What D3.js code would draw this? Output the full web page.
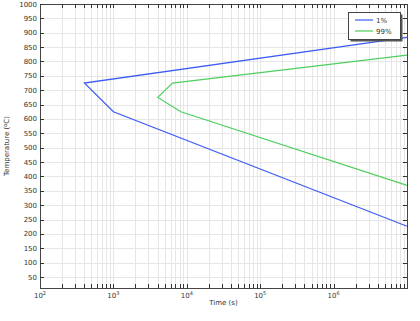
<!DOCTYPE html>
<html>
  <head>
    <meta charset="utf-8" />
    <title>TTT curves</title>
    <script src="https://cdn.jsdelivr.net/npm/d3@7"></script>
    <style>
      body { margin: 0; background: #fff; }
      text { font-family: "DejaVu Sans", sans-serif; fill: #333; }
    </style>
  </head>
  <body>
    <script>
// values
var seriesNames = ["1%", "99%"];
var seriesColors = ["#3d5cf5", "#4fcf5f"];
var time1 = [1e7, 402, 1000, 1e7];
var temp1 = [884, 725, 625, 227];
var time99 = [1e7, 6380, 4025, 8300, 1e7];
var temp99 = [822, 725, 675, 625, 369];
var xTickExp = [2, 3, 4, 5, 6];
var yTicks = d3.range(50, 1001, 50);

// note: "top" is window.top, so use other names for the plot box
var w = 420, h = 321,
    pLeft = 40, pRight = 407, pTop = 4, pBottom = 288;

var svg = d3.select("body").append("svg")
  .attr("width", w)
  .attr("height", h);

var x = d3.scaleLog().domain([1e2, 1e7]).range([pLeft, pRight]);
var y = d3.scaleLinear().domain([12, 1000]).range([pBottom, pTop]);

// minor + major x positions
var xAll = [];
for (var e = 2; e < 7; e++) {
  for (var m = 1; m < 10; m++) xAll.push(m * Math.pow(10, e));
}

var grid = svg.append("g").attr("stroke", "#e6e6e6").attr("stroke-width", 1);
grid.selectAll("line.v").data(xAll.slice(1)).enter().append("line")
  .attr("x1", function(d) { return Math.round(x(d)) + 0.5; })
  .attr("x2", function(d) { return Math.round(x(d)) + 0.5; })
  .attr("y1", pTop).attr("y2", pBottom);
grid.selectAll("line.h").data(yTicks.slice(0, -1)).enter().append("line")
  .attr("y1", function(d) { return Math.round(y(d)) + 0.5; })
  .attr("y2", function(d) { return Math.round(y(d)) + 0.5; })
  .attr("x1", pLeft).attr("x2", pRight);

// curves
var line = d3.line()
  .x(function(d) { return x(d[0]); })
  .y(function(d) { return y(d[1]); });

var curves = [d3.zip(time1, temp1), d3.zip(time99, temp99)];
svg.selectAll("path.curve").data(curves).enter().append("path")
  .attr("d", line)
  .attr("fill", "none")
  .attr("stroke", function(d, i) { return seriesColors[i]; })
  .attr("stroke-width", 1.2);

// frame
svg.append("rect")
  .attr("x", pLeft + 0.5).attr("y", pTop + 0.5)
  .attr("width", pRight - pLeft).attr("height", pBottom - pTop)
  .attr("fill", "none").attr("stroke", "#444").attr("stroke-width", 1);

// ticks, pointing inward on all four sides
var ticks = svg.append("g").attr("stroke", "#333").attr("stroke-width", 1);
xAll.slice(1).forEach(function(d) {
  var px = Math.round(x(d)) + 0.5;
  ticks.append("line").attr("x1", px).attr("x2", px).attr("y1", pBottom).attr("y2", pBottom - 4);
  ticks.append("line").attr("x1", px).attr("x2", px).attr("y1", pTop).attr("y2", pTop + 4);
});
yTicks.forEach(function(d) {
  var py = Math.round(y(d)) + 0.5;
  ticks.append("line").attr("y1", py).attr("y2", py).attr("x1", pLeft).attr("x2", pLeft + 4);
  ticks.append("line").attr("y1", py).attr("y2", py).attr("x1", pRight).attr("x2", pRight - 4);
});

// y tick labels
svg.selectAll("text.ylab").data(yTicks).enter().append("text")
  .attr("x", pLeft - 3)
  .attr("y", function(d) { return y(d) + 2.5; })
  .attr("text-anchor", "end")
  .attr("font-size", 7)
  .text(function(d) { return d; });

// x tick labels with superscript exponent
var xl = svg.selectAll("text.xlab").data(xTickExp).enter().append("text")
  .attr("x", function(d) { return x(Math.pow(10, d)); })
  .attr("y", pBottom + 10)
  .attr("text-anchor", "middle")
  .attr("font-size", 7);
xl.append("tspan").text("10");
xl.append("tspan").attr("dy", -3).attr("font-size", 5).text(function(d) { return d; });

// axis titles
svg.append("text")
  .attr("x", (pLeft + pRight) / 2).attr("y", pBottom + 17)
  .attr("text-anchor", "middle").attr("font-size", 7)
  .text("Time (s)");

var yt = svg.append("text")
  .attr("transform", "translate(9," + ((pTop + pBottom) / 2) + ") rotate(-90)")
  .attr("text-anchor", "middle").attr("font-size", 7);
yt.append("tspan").text("Temperature (");
yt.append("tspan").attr("dy", -2.5).attr("font-size", 5).text("o");
yt.append("tspan").attr("dy", 2.5).text("C)");

// legend
var lg = svg.append("g");
lg.append("rect").attr("x", 350.5).attr("y", 14.5).attr("width", 52).attr("height", 27)
  .attr("fill", "#555");
lg.append("rect").attr("x", 348.5).attr("y", 12.5).attr("width", 52).attr("height", 27)
  .attr("fill", "#fff").attr("stroke", "#444").attr("stroke-width", 1);
seriesNames.forEach(function(name, i) {
  var ly = 20 + i * 11;
  lg.append("line").attr("x1", 355).attr("x2", 373).attr("y1", ly).attr("y2", ly)
    .attr("stroke", seriesColors[i]).attr("stroke-width", 1.2);
  lg.append("text").attr("x", 376).attr("y", ly + 2.5).attr("font-size", 7).text(name);
});
    </script>
  </body>
</html>
